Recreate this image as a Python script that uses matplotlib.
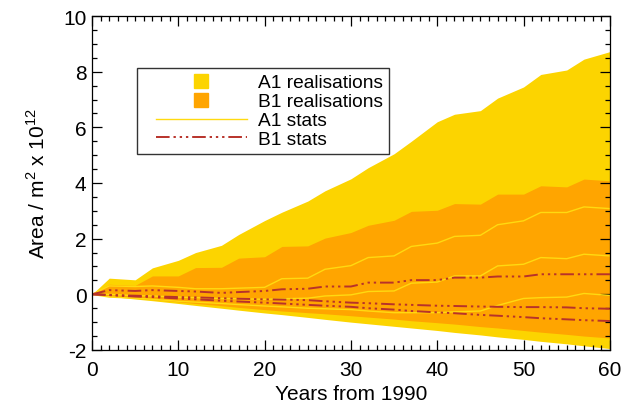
import numpy as np
import matplotlib
matplotlib.use("Agg")
from matplotlib import pyplot as plt
from matplotlib.legend_handler import HandlerLine2D
from matplotlib.lines import Line2D
from matplotlib.ticker import MultipleLocator

plt.rcParams["font.family"] = ["Liberation Sans", "DejaVu Sans"]
plt.rcParams["mathtext.fontset"] = "custom"
plt.rcParams["mathtext.rm"] = "Liberation Sans"
plt.rcParams["axes.unicode_minus"] = False

# Years from 1990 at which the envelopes and statistics are sampled
years = [0, 2, 5, 7, 10, 12, 15, 17, 20, 22, 25, 27, 30,
         32, 35, 37, 40, 42, 45, 47, 50, 52, 55, 57, 60]

# A1 realisations envelope (upper / lower)
a1_upper = [0.0, 0.58, 0.52, 0.95, 1.22, 1.5, 1.76, 2.15, 2.65, 2.95, 3.35, 3.72, 4.15,
            4.55, 5.05, 5.5, 6.2, 6.47, 6.6, 7.05, 7.45, 7.9, 8.06, 8.45, 8.72]
a1_lower = [0.0, -0.07, -0.17, -0.23, -0.33, -0.4, -0.5, -0.57, -0.67, -0.73, -0.83, -0.9, -1.0,
            -1.06, -1.15, -1.21, -1.3, -1.37, -1.46, -1.53, -1.62, -1.69, -1.78, -1.85, -1.95]

# B1 realisations envelope (upper / lower)
b1_upper = [0.0, 0.36, 0.32, 0.66, 0.66, 0.96, 0.97, 1.3, 1.35, 1.72, 1.74, 2.02, 2.22,
            2.48, 2.66, 2.98, 3.02, 3.26, 3.24, 3.6, 3.6, 3.9, 3.86, 4.14, 4.08]
b1_lower = [0.0, -0.05, -0.14, -0.19, -0.27, -0.33, -0.41, -0.47, -0.55, -0.6, -0.66, -0.7, -0.77,
            -0.82, -0.89, -0.95, -1.02, -1.07, -1.16, -1.21, -1.3, -1.36, -1.44, -1.5, -1.57]

# A1 statistics lines
a1_stat_hi = [0.0, 0.3, 0.28, 0.3, 0.25, 0.2, 0.2, 0.22, 0.25, 0.56, 0.58, 0.9, 1.03,
              1.32, 1.38, 1.72, 1.84, 2.08, 2.12, 2.5, 2.64, 2.94, 2.94, 3.14, 3.08]
a1_stat_mid = [0.0, 0.0, -0.05, -0.06, -0.1, -0.12, -0.15, -0.16, -0.18, -0.16, -0.14, -0.06, -0.02,
               0.1, 0.12, 0.4, 0.44, 0.66, 0.66, 1.02, 1.08, 1.32, 1.28, 1.44, 1.38]
a1_stat_lo = [0.0, -0.1, -0.14, -0.18, -0.25, -0.28, -0.33, -0.37, -0.42, -0.45, -0.5, -0.52, -0.55,
              -0.6, -0.66, -0.66, -0.66, -0.63, -0.6, -0.4, -0.15, -0.12, -0.1, 0.03, -0.04]

# B1 statistics lines
b1_stat_hi = [0.0, 0.15, 0.12, 0.15, 0.12, 0.1, 0.05, 0.08, 0.12, 0.18, 0.2, 0.28, 0.28,
              0.42, 0.42, 0.51, 0.51, 0.6, 0.6, 0.64, 0.64, 0.72, 0.72, 0.72, 0.72]
b1_stat_mid = [0.0, -0.02, -0.05, -0.07, -0.1, -0.11, -0.14, -0.16, -0.18, -0.19, -0.21, -0.25, -0.3,
               -0.32, -0.36, -0.38, -0.41, -0.42, -0.44, -0.45, -0.46, -0.46, -0.47, -0.5, -0.52]
b1_stat_lo = [0.0, -0.03, -0.08, -0.1, -0.15, -0.18, -0.23, -0.26, -0.3, -0.33, -0.38, -0.41, -0.45,
              -0.5, -0.55, -0.6, -0.65, -0.68, -0.74, -0.77, -0.82, -0.86, -0.9, -0.93, -0.96]

A1_FILL = "#FCD400"
B1_FILL = "#FFA500"
A1_LINE = "#FFDA10"
B1_LINE = "#B8322A"
B1_DASHES = (7, 2, 1.2, 2, 1.2, 2, 1.2, 2)
LABEL_SIZE = 15

fig = plt.figure(figsize=(6.3, 4.1), dpi=100)
ax = fig.add_axes([0.146, 0.144, 0.822, 0.8145])

ax.fill_between(years, a1_lower, a1_upper, color=A1_FILL, lw=0)
ax.fill_between(years, b1_lower, b1_upper, color=B1_FILL, lw=0)

for series in (a1_stat_hi, a1_stat_mid, a1_stat_lo):
    ax.plot(years, series, color=A1_LINE, lw=1.0)
for series in (b1_stat_hi, b1_stat_mid, b1_stat_lo):
    ax.plot(years, series, color=B1_LINE, lw=1.4, dashes=B1_DASHES)

ax.set_xlim(0, 60)
ax.set_ylim(-2, 10)
ax.xaxis.set_major_locator(MultipleLocator(10))
ax.xaxis.set_minor_locator(MultipleLocator(1))
ax.yaxis.set_major_locator(MultipleLocator(2))
ax.yaxis.set_minor_locator(MultipleLocator(0.5))
ax.tick_params(which="both", direction="in", top=True, right=True,
               labelsize=LABEL_SIZE, width=0.9)
ax.tick_params(which="major", length=7.5)
ax.tick_params(which="minor", length=3.5)
ax.tick_params(axis="x", which="major", pad=7)
ax.tick_params(axis="y", which="major", pad=4)
for spine in ax.spines.values():
    spine.set_linewidth(0.9)

ax.set_xlabel("Years from 1990", fontsize=LABEL_SIZE, labelpad=4)
ax.set_ylabel("Area / m$^{2}$ x 10$^{12}$", fontsize=LABEL_SIZE, labelpad=10)

handles = [
    Line2D([], [], ls="none", marker="s", ms=10, mfc=A1_FILL, mec=A1_FILL),
    Line2D([], [], ls="none", marker="s", ms=10, mfc=B1_FILL, mec=B1_FILL),
    Line2D([], [], color=A1_LINE, lw=1.0),
    Line2D([], [], color=B1_LINE, lw=1.4, dashes=B1_DASHES),
]
labels = ["A1 realisations", "B1 realisations", "A1 stats", "B1 stats"]
leg = ax.legend(handles, labels, loc="upper left", bbox_to_anchor=(0.087, 0.845),
                fontsize=13.8, handlelength=5.4, handletextpad=0.57, labelspacing=0.08,
                borderpad=0.32, borderaxespad=0, fancybox=False, framealpha=1,
                edgecolor="#333333", handler_map={Line2D: HandlerLine2D(xpad=0.67)})
leg.get_frame().set_linewidth(1.0)

fig.savefig("out.png", dpi=100)
